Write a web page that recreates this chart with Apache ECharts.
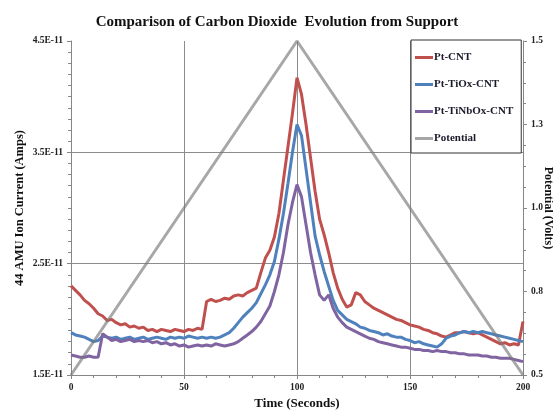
<!DOCTYPE html>
<html>
<head>
<meta charset="utf-8">
<script src="https://cdn.jsdelivr.net/npm/echarts@6/dist/echarts.min.js"></script>
<style>html,body{margin:0;padding:0;background:#fff}#c{width:553px;height:411px}</style>
</head>
<body>
<div id="c"></div>
<script>
// time in seconds
const times = [0,2,4,6,8,10,12,14,16,18,20,22,24,26,28,30,32,34,36,38,40,42,44,46,48,50,52,54,56,58,60,62,64,66,68,70,72,74,76,78,80,82,84,86,88,90,92,94,96,98,100,102,104,106,108,110,112,114,116,118,120,122,124,126,128,130,132,134,136,138,140,142,144,146,148,150,152,154,156,158,160,162,164,166,168,170,172,174,176,178,180,182,184,186,188,190,192,194,196,198,200];
// ion current in units of 1E-11 A
const ptCNT = [2.30,2.26,2.22,2.17,2.14,2.10,2.05,2.03,1.99,2.00,1.97,1.95,1.96,1.93,1.94,1.92,1.93,1.90,1.91,1.89,1.91,1.90,1.89,1.91,1.90,1.89,1.91,1.90,1.92,1.91,2.16,2.18,2.16,2.17,2.19,2.18,2.21,2.22,2.21,2.24,2.26,2.28,2.42,2.55,2.62,2.74,2.95,3.25,3.55,3.85,4.17,4.02,3.75,3.45,3.15,2.90,2.76,2.60,2.42,2.28,2.18,2.11,2.13,2.24,2.22,2.16,2.13,2.10,2.08,2.06,2.04,2.02,2.00,1.99,1.97,1.95,1.94,1.93,1.91,1.90,1.88,1.87,1.85,1.84,1.86,1.88,1.88,1.89,1.88,1.87,1.88,1.86,1.84,1.82,1.80,1.78,1.79,1.77,1.78,1.77,1.98];
const ptTiOx = [1.88,1.86,1.85,1.84,1.82,1.80,1.81,1.85,1.84,1.83,1.84,1.82,1.83,1.84,1.82,1.83,1.84,1.82,1.83,1.84,1.83,1.82,1.84,1.83,1.84,1.83,1.85,1.84,1.83,1.84,1.83,1.84,1.83,1.84,1.86,1.88,1.92,1.97,2.02,2.06,2.10,2.15,2.23,2.31,2.40,2.52,2.72,2.95,3.22,3.50,3.75,3.65,3.35,3.05,2.75,2.58,2.43,2.30,2.17,2.08,2.04,2.00,1.98,1.96,1.93,1.92,1.90,1.89,1.88,1.86,1.87,1.85,1.84,1.84,1.82,1.81,1.79,1.80,1.78,1.77,1.76,1.75,1.78,1.83,1.85,1.86,1.88,1.89,1.88,1.89,1.88,1.89,1.88,1.87,1.86,1.85,1.84,1.83,1.82,1.81,1.80];
const ptTiNbOx = [1.68,1.67,1.66,1.66,1.67,1.66,1.66,1.87,1.84,1.81,1.82,1.80,1.81,1.82,1.80,1.81,1.80,1.81,1.79,1.80,1.78,1.79,1.77,1.78,1.76,1.77,1.75,1.76,1.77,1.76,1.77,1.76,1.78,1.77,1.76,1.77,1.78,1.80,1.83,1.86,1.89,1.93,1.98,2.05,2.12,2.25,2.40,2.60,2.85,3.05,3.21,3.10,2.85,2.60,2.40,2.22,2.17,2.22,2.10,2.02,1.97,1.93,1.91,1.89,1.87,1.85,1.83,1.82,1.80,1.79,1.78,1.77,1.76,1.75,1.75,1.74,1.73,1.73,1.72,1.72,1.71,1.72,1.71,1.71,1.70,1.70,1.69,1.69,1.68,1.68,1.68,1.67,1.67,1.66,1.66,1.65,1.65,1.65,1.64,1.63,1.62];
// potential (volts)
const potTimes = [0,100,200];
const potential = [0.5,1.5,0.5];
const seriesNames = ['Pt-CNT','Pt-TiOx-CNT','Pt-TiNbOx-CNT','Potential'];

const pair = (t, v) => t.map((x, i) => [x, v[i]]);
const F = 'Liberation Serif';
const axisCol = '#868686';
const lbl = {fontFamily: F, fontWeight: 'bold', fontSize: 9.5, color: '#222'};

const chart = echarts.init(document.getElementById('c'));
chart.setOption({
  animation: false,
  backgroundColor: '#fff',
  title: {
    text: 'Comparison of Carbon Dioxide  Evolution from Support',
    left: 272, textAlign: 'center', top: 10,
    textStyle: {fontFamily: F, fontWeight: 'bold', fontSize: 15, color: '#111'}
  },
  grid: {left: 71, right: 30, top: 41, bottom: 36, outerBoundsMode: 'none', containLabel: false},
  legend: {
    orient: 'vertical', left: 411, top: 40,
    padding: [12, 8, 9, 4], itemGap: 16,
    backgroundColor: '#fff', borderColor: '#333', borderWidth: 1,
    icon: 'rect', itemWidth: 18, itemHeight: 3,
    textStyle: {fontFamily: F, fontWeight: 'bold', fontSize: 11, color: '#1a1a2a', padding: [0, 0, 0, -4]},
    data: seriesNames
  },
  xAxis: {
    type: 'value', min: 0, max: 200, interval: 50,
    name: 'Time (Seconds)', nameLocation: 'middle', nameGap: 22, nameMoveOverlap: false,
    nameTextStyle: {fontFamily: F, fontWeight: 'bold', fontSize: 13, color: '#111'},
    axisLine: {show: true, lineStyle: {color: axisCol}},
    axisTick: {show: true, length: 4, lineStyle: {color: axisCol}},
    minorTick: {show: true, splitNumber: 5, length: 3, lineStyle: {color: axisCol}},
    axisLabel: Object.assign({margin: 8}, lbl),
    splitLine: {show: true, lineStyle: {color: '#8c8c8c', width: 1}}
  },
  yAxis: [{
    type: 'value', min: 1.5, max: 4.5, interval: 1,
    name: '44 AMU Ion Current (Amps)', nameLocation: 'middle', nameGap: 45, nameMoveOverlap: false,
    nameTextStyle: {fontFamily: F, fontWeight: 'bold', fontSize: 12.5, color: '#111'},
    axisLine: {show: true, lineStyle: {color: axisCol}},
    axisTick: {show: true, length: 4, lineStyle: {color: axisCol}},
    minorTick: {show: true, splitNumber: 10, length: 3, lineStyle: {color: axisCol}},
    axisLabel: Object.assign({margin: 8, formatter: v => v.toFixed(1) + 'E-11'}, lbl),
    splitLine: {show: true, showMaxLine: false, showMinLine: false, lineStyle: {color: '#8c8c8c', width: 1}}
  }, {
    type: 'value', min: 0.5, max: 1.5, interval: 0.25,
    name: 'Potential (Volts)', nameLocation: 'middle', nameGap: 19, nameRotate: -90, nameMoveOverlap: false,
    nameTextStyle: {fontFamily: F, fontWeight: 'bold', fontSize: 12, color: '#111'},
    axisLine: {show: true, lineStyle: {color: axisCol}},
    axisTick: {show: true, length: 4, lineStyle: {color: axisCol}},
    minorTick: {show: true, splitNumber: 4, length: 3, lineStyle: {color: axisCol}},
    axisLabel: Object.assign({margin: 8, formatter: v => v.toFixed(1)}, lbl),
    splitLine: {show: false}
  }],
  series: [
    {name: seriesNames[0], type: 'line', yAxisIndex: 0, showSymbol: false, data: pair(times, ptCNT),
     itemStyle: {color: '#C0504D'}, lineStyle: {color: '#C0504D', width: 3}},
    {name: seriesNames[1], type: 'line', yAxisIndex: 0, showSymbol: false, data: pair(times, ptTiOx),
     itemStyle: {color: '#4F81BD'}, lineStyle: {color: '#4F81BD', width: 3}},
    {name: seriesNames[2], type: 'line', yAxisIndex: 0, showSymbol: false, data: pair(times, ptTiNbOx),
     itemStyle: {color: '#8064A2'}, lineStyle: {color: '#8064A2', width: 3}},
    {name: seriesNames[3], type: 'line', yAxisIndex: 1, showSymbol: false, data: pair(potTimes, potential),
     itemStyle: {color: '#A6A6A6'}, lineStyle: {color: 'rgba(120,120,120,0.65)', width: 3}}
  ]
});
</script>
</body>
</html>
